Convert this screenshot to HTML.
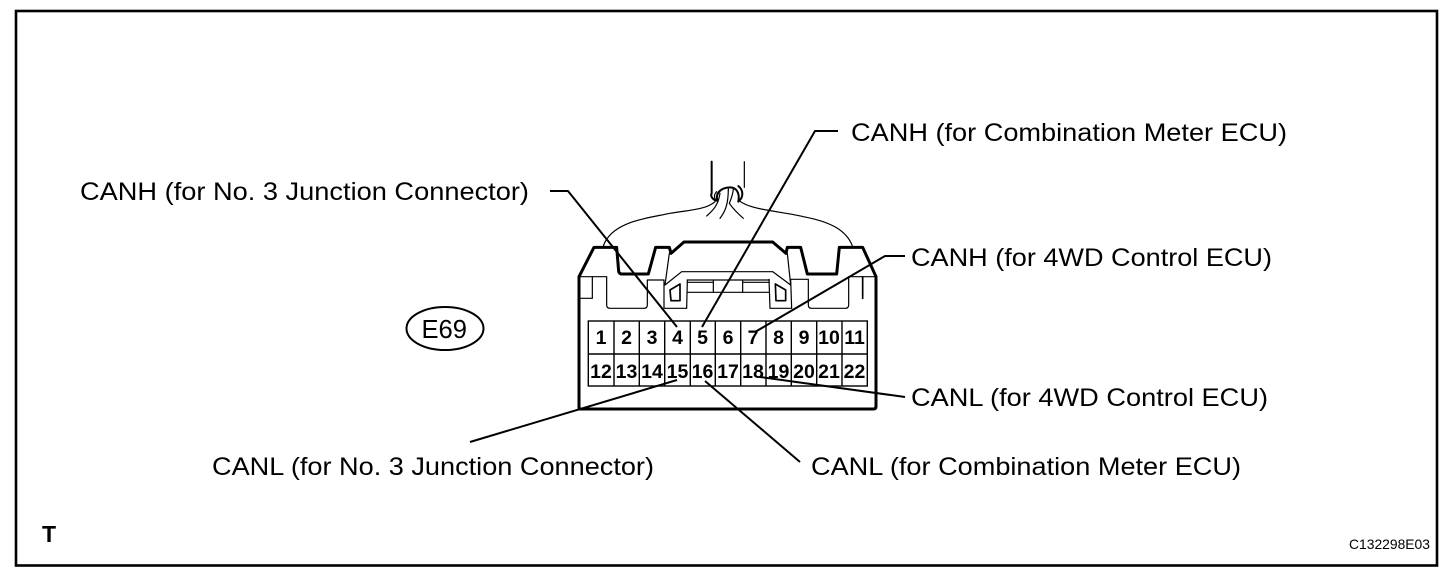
<!DOCTYPE html>
<html>
<head>
<meta charset="utf-8">
<style>
html,body{margin:0;padding:0;background:#fff;width:1456px;height:572px;overflow:hidden}
svg{display:block}
text{font-family:"Liberation Sans",Arial,sans-serif;fill:#000}
.lab{font-size:25px}
.pin{font-size:19.5px;font-weight:bold;text-anchor:middle}
</style>
</head>
<body>
<svg width="1456" height="572" viewBox="0 0 1456 572" xmlns="http://www.w3.org/2000/svg">
<rect width="1456" height="572" fill="#fff"/>
<rect x="16" y="11" width="1421" height="554.5" fill="none" stroke="#000" stroke-width="2.6"/>

<!-- connector, in 3x coordinates -->
<g transform="translate(570,150) scale(0.33333)" fill="none" stroke="#000" stroke-linejoin="round" stroke-linecap="round">
  <path stroke-width="9" d="M27 777V380L72 292H140L146 364Q148 372 156 372H235L257 292H298L303 310L342 276H608L648 310L652 292H692L712 372H800L808 292H878L918 380V770Q918 777 910 777Z"/>
  <g stroke-width="3.6">
    <path d="M27 380H110V465Q110 475 120 475H222Q232 475 232 465V390H282V475H350L352 390"/>
    <path d="M33 445H67V380"/>
    <path d="M918 380H836V465Q836 475 826 475H725Q715 475 715 465V388H662L665 475H600L597 388"/>
    <path d="M298 310L285 405L335 365H608L662 405L652 310"/>
    <path d="M352 397H428M518 397H598M352 427H598M352 390H598"/>
    <path d="M430 390V427M518 390V427"/>
    <path stroke-width="5" d="M300 420L330 402V452H303Z"/>
    <path stroke-width="5" d="M616 402L647 420V452H618Z"/>
    <path d="M100 288C125 215 230 205 300 190C360 180 410 178 435 155"/>
    <path d="M508 152C540 180 640 185 700 200C780 215 830 240 848 290"/>
    <path d="M410 198C430 180 445 165 450 130"/>
    <path d="M450 205C465 185 475 165 475 115"/>
    <path d="M490 115C490 130 482 150 478 160C490 178 505 192 520 205"/>
    <path d="M440 125C430 135 432 148 442 152"/>
  </g>
  <path stroke-width="6" d="M425 35V130C420 140 430 150 440 152"/>
  <path stroke-width="3.6" d="M523 35V112"/>
  <path stroke-width="6" d="M505 108C520 120 522 142 505 154"/>
  <path stroke-width="6" d="M442 150C435 125 460 112 480 112C500 112 510 130 505 155"/>
  <path stroke-width="5" d="M878 380V445"/>
</g>

<!-- pin grid -->
<g fill="none" stroke="#000" stroke-width="1.4">
  <rect x="588.3" y="321" width="279" height="65"/>
  <path d="M588.3 354H867.3"/>
  <path d="M614 321V386M639.3 321V386M664.7 321V386M690.3 321V386M715.3 321V386M740.7 321V386M766 321V386M791.3 321V386M816.7 321V386M842 321V386"/>
</g>
<g class="pins">
  <text class="pin" x="601" y="344">1</text>
  <text class="pin" x="626.5" y="344">2</text>
  <text class="pin" x="652" y="344">3</text>
  <text class="pin" x="677.5" y="344">4</text>
  <text class="pin" x="702.5" y="344">5</text>
  <text class="pin" x="728" y="344">6</text>
  <text class="pin" x="753" y="344">7</text>
  <text class="pin" x="778.5" y="344">8</text>
  <text class="pin" x="804" y="344">9</text>
  <text class="pin" x="829" y="344">10</text>
  <text class="pin" x="854.5" y="344">11</text>
  <text class="pin" x="601" y="378">12</text>
  <text class="pin" x="626.5" y="378">13</text>
  <text class="pin" x="652" y="378">14</text>
  <text class="pin" x="677.5" y="378">15</text>
  <text class="pin" x="702.5" y="378">16</text>
  <text class="pin" x="728" y="378">17</text>
  <text class="pin" x="753" y="378">18</text>
  <text class="pin" x="778.5" y="378">19</text>
  <text class="pin" x="804" y="378">20</text>
  <text class="pin" x="829" y="378">21</text>
  <text class="pin" x="854.5" y="378">22</text>
</g>

<!-- leader lines -->
<g fill="none" stroke="#000" stroke-width="2" stroke-linejoin="round">
  <path d="M838 131H815L702 327"/>
  <path d="M550 191H568L677 327"/>
  <path d="M905 256H885L755 332"/>
  <path d="M905 397L760 377"/>
  <path d="M470 442L677 380"/>
  <path d="M800 462L705 381"/>
</g>

<!-- labels -->
<text class="lab" x="851" y="141" textLength="436" lengthAdjust="spacingAndGlyphs">CANH (for Combination Meter ECU)</text>
<text class="lab" x="80" y="200" textLength="449" lengthAdjust="spacingAndGlyphs">CANH (for No. 3 Junction Connector)</text>
<text class="lab" x="911" y="266" textLength="361" lengthAdjust="spacingAndGlyphs">CANH (for 4WD Control ECU)</text>
<text class="lab" x="911" y="406" textLength="357" lengthAdjust="spacingAndGlyphs">CANL (for 4WD Control ECU)</text>
<text class="lab" x="212" y="475" textLength="442" lengthAdjust="spacingAndGlyphs">CANL (for No. 3 Junction Connector)</text>
<text class="lab" x="811" y="475" textLength="430" lengthAdjust="spacingAndGlyphs">CANL (for Combination Meter ECU)</text>

<ellipse cx="445" cy="328.5" rx="38.5" ry="21.5" fill="none" stroke="#000" stroke-width="2"/>
<text x="421.5" y="338" font-size="26" textLength="45.5" lengthAdjust="spacingAndGlyphs">E69</text>

<text x="42" y="542" font-size="23" font-weight="bold">T</text>
<text x="1349" y="549" font-size="14" textLength="81" lengthAdjust="spacingAndGlyphs">C132298E03</text>
</svg>
</body>
</html>
